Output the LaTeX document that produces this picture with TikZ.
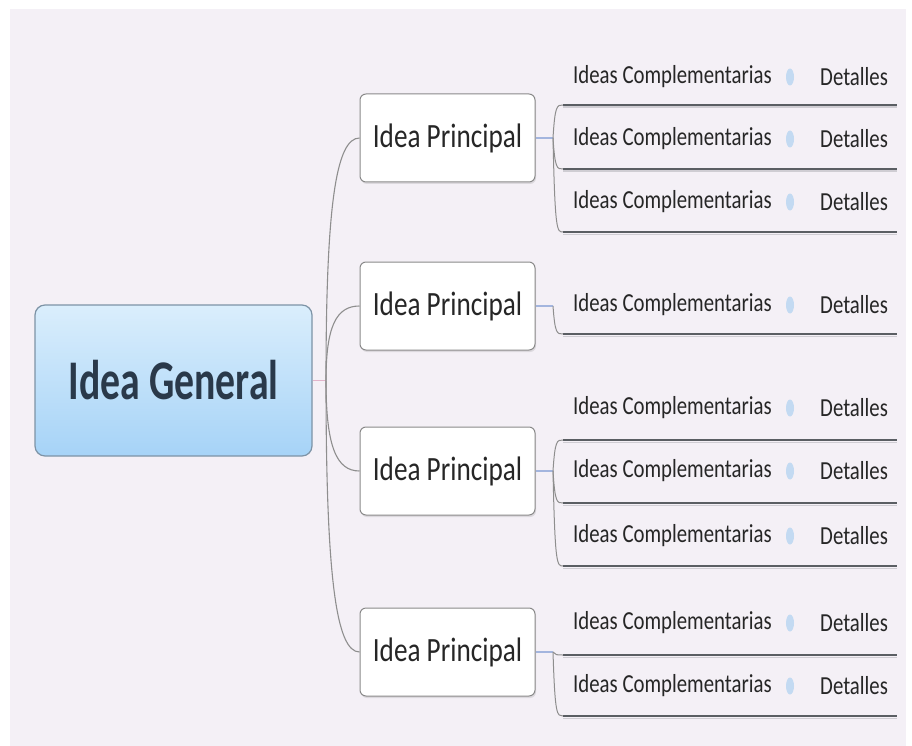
\documentclass[tikz,border=0pt]{standalone}
\usepackage{fontspec}
\usetikzlibrary{shadows,shapes.geometric}
\newfontfamily\mapfont[FakeStretch=0.8]{Carlito}
\newfontfamily\genfont[FakeStretch=0.71]{Carlito}
\definecolor{canvasbg}{HTML}{F4F0F6}
\definecolor{genTop}{HTML}{DAEEFC}
\definecolor{genBot}{HTML}{A6D3F7}
\definecolor{genEdge}{HTML}{7D93A6}
\definecolor{genText}{HTML}{2A394A}
\definecolor{boxEdge}{HTML}{8A8A8A}
\definecolor{textDark}{HTML}{262626}
\definecolor{trunkCol}{HTML}{8E8E8E}
\definecolor{pinkCol}{HTML}{E2B4CA}
\definecolor{stubCol}{HTML}{A3B5DE}
\definecolor{ruleCol}{HTML}{5A5E63}
\definecolor{ruleShade}{HTML}{CFCDD3}
\definecolor{dotCol}{HTML}{C3DAF2}
\begin{document}
\begin{tikzpicture}[x=1pt,y=-1pt,
  general/.style={draw=genEdge, line width=1.2pt, rounded corners=10pt,
    top color=genTop, bottom color=genBot, minimum width=277pt,
    minimum height=151pt, inner sep=0pt, text=genText,
    font=\genfont\bfseries\fontsize{56}{60}\selectfont},
  principal/.style={draw=boxEdge, line width=1pt, rounded corners=6pt,
    fill=white, minimum width=175pt, minimum height=88pt, inner sep=0pt,
    text=textDark, font=\mapfont\fontsize{34}{38}\selectfont,
    drop shadow={shadow xshift=1pt, shadow yshift=-2pt, opacity=0.2}},
  subtext/.style={anchor=west, inner sep=0pt, text=textDark,
    font=\mapfont\fontsize{26}{30}\selectfont},
  dot/.style={ellipse, fill=dotCol, minimum width=8pt, minimum height=17pt,
    inner sep=0pt},
  trunk/.style={draw=trunkCol, line width=1.1pt},
  bracket/.style={draw=trunkCol, line width=1pt},
  stub/.style={draw=stubCol, line width=1.3pt},
  rule/.style={draw=ruleCol, line width=1.7pt},
  ruleshade/.style={draw=ruleShade, line width=1.4pt}
]
\useasboundingbox (0,0) rectangle (912,746);
\fill[white] (0,0) rectangle (912,746);
\fill[canvasbg] (10,9) rectangle (906,746);

% central topic
\node[general] (gen) at (173.5,380.5) {Idea General};

% main branches
\foreach \i/\y in {1/138,2/306,3/471,4/652}{
  \node[principal] (p\i) at (447.5,\y) {Idea Principal};
}
\coordinate (j0) at (326,380.5);
\draw[draw=pinkCol, line width=1.4pt] (gen.east) -- (j0);
\foreach \i/\y in {1/138,2/306,3/471,4/652}{
  \draw[trunk] (j0) .. controls (326,{380.5+0.72*(\y-380.5)}) and (336,\y) .. (p\i.west);
  \coordinate (s\i) at (553,\y);
  \draw[stub] (p\i.east) -- (s\i);
}

% sub-topics with their details and underlines
\foreach \n/\g/\ty/\ly in {1/1/77/105, 2/1/139/169, 3/1/202/232,
                           4/2/305/334,
                           5/3/408/440, 6/3/471/503, 7/3/536/566,
                           8/4/623/655, 9/4/686/716}{
  \node[subtext] (c\n) at (573,\ty) {Ideas Complementarias};
  \node[dot] (k\n) at (790,\ty) {};
  \node[subtext] (d\n) at (820,\ty) {Detalles};
  \coordinate (uL\n) at (563,\ly);
  \coordinate (uR\n) at (897,\ly);
  \draw[ruleshade] ([yshift=-2.2pt]uL\n) -- ([yshift=-2.2pt]uR\n);
  \draw[rule] (uL\n) -- (uR\n);
  \draw[bracket] (s\g) .. controls ([xshift=2pt]s\g |- uL\n) and ([xshift=-6pt]uL\n) .. (uL\n);
}
\end{tikzpicture}
\end{document}
